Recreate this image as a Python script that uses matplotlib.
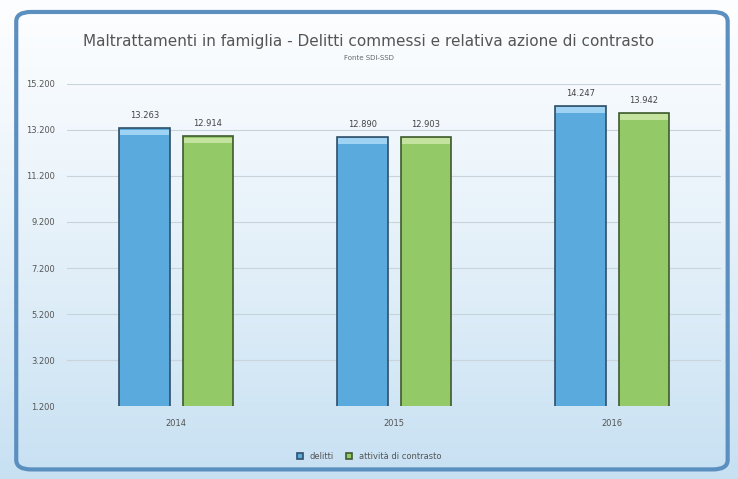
import matplotlib.pyplot as plt
import numpy as np
from matplotlib.patches import FancyBboxPatch

years = ['2014', '2015', '2016']
delitti = [13263, 12890, 14247]
contrasto = [12914, 12903, 13942]
yticks = [1200, 3200, 5200, 7200, 9200, 11200, 13200, 15200]

def fmt(v):
    return '{:,}'.format(v).replace(',', '.')

fig = plt.figure(figsize=(7.38, 4.79), dpi=100)

# background gradient + rounded frame
bg = fig.add_axes([0, 0, 1, 1], zorder=-10)
grad = np.linspace(0, 1, 256).reshape(-1, 1)
top = np.array([0.99, 0.995, 1.0])
bot = np.array([0.78, 0.88, 0.95])
img = top + (bot - top) * grad[..., None] ** 1.2
bg.imshow(img, aspect='auto', extent=[0, 1, 0, 1], origin='upper')
bg.add_patch(FancyBboxPatch((0.022, 0.02), 0.964, 0.955,
                            boxstyle='round,pad=0,rounding_size=0.02',
                            fill=False, edgecolor='#5b8fc0', linewidth=3))
bg.set_xlim(0, 1)
bg.set_ylim(0, 1)
bg.axis('off')

ax = fig.add_axes([0.091, 0.152, 0.886, 0.673])
ax.patch.set_alpha(0)
x = np.arange(len(years))
w = 0.23
off = 0.145
b1 = ax.bar(x - off, delitti, w, color='#5aaade', edgecolor='#2f4f68', linewidth=1.2,
            label='delitti', zorder=3)
b2 = ax.bar(x + off, contrasto, w, color='#93c966', edgecolor='#3f5a2e', linewidth=1.2,
            label='attività di contrasto', zorder=3)
# lighter top strip for a bevel look
for bars, c in ((b1, '#9fd3f3'), (b2, '#c3e39f')):
    for b in bars:
        ax.bar(b.get_x() + b.get_width() / 2, 250, b.get_width() * 0.96,
               bottom=b.get_height() - 300, color=c, linewidth=0, zorder=4)

for bars, vals in ((b1, delitti), (b2, contrasto)):
    for b, v in zip(bars, vals):
        ax.text(b.get_x() + b.get_width() / 2, v + 350, fmt(v), ha='center',
                va='bottom', fontsize=6, color='#444444')

ax.set_ylim(1200, 15200)
ax.set_xlim(-0.5, 2.5)
ax.set_yticks(yticks)
ax.set_yticklabels([fmt(t) for t in yticks], fontsize=6, color='#555555')
ax.set_xticks(x)
ax.set_xticklabels(years, fontsize=6, color='#555555')
ax.tick_params(length=0, pad=9)
ax.grid(axis='y', color='#c8d3dc', linewidth=0.8, zorder=0)
for s in ax.spines.values():
    s.set_visible(False)

fig.text(0.5, 0.905, 'Maltrattamenti in famiglia - Delitti commessi e relativa azione di contrasto',
         ha='center', fontsize=11, color='#555555')
fig.text(0.5, 0.875, 'Fonte SDI-SSD', ha='center', fontsize=5, color='#666666')

fig.legend(loc='lower center', bbox_to_anchor=(0.5, 0.022), ncol=2, frameon=False,
           fontsize=6, handlelength=0.7, handleheight=0.7, columnspacing=1.5,
           labelcolor='#555555')

fig.savefig('out.png', dpi=100)
